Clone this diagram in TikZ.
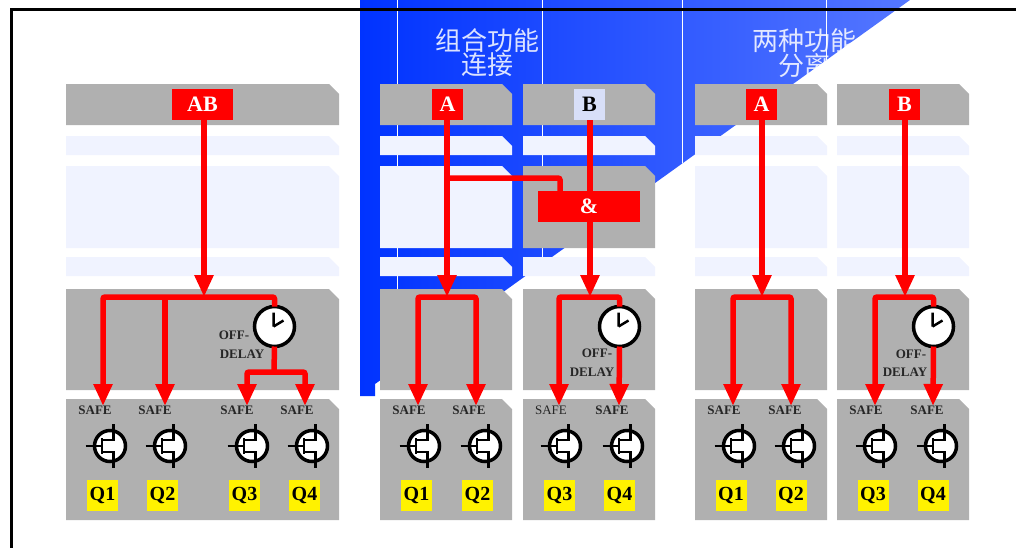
\documentclass[tikz,border=0pt]{standalone}
\usepackage{fontspec}
\setmainfont{Liberation Serif}
\newfontfamily\cjk{Noto Sans CJK SC}
\usetikzlibrary{arrows.meta}
\definecolor{panelgray}{HTML}{B0B0B0}
\definecolor{panelpale}{HTML}{F0F3FF}
\definecolor{inputpale}{HTML}{D8DFF8}
\definecolor{blueleft}{HTML}{0033FF}
\definecolor{blueright}{HTML}{5577FF}
\tikzset{
  notched/.style={rectangle,inner sep=0pt,outer sep=0pt,anchor=north west,
    path picture={
      \fill[#1] (path picture bounding box.north west)
        -- ([xshift=-10pt]path picture bounding box.north east)
        -- ([yshift=-10pt]path picture bounding box.north east)
        -- (path picture bounding box.south east)
        -- (path picture bounding box.south west) -- cycle;}},
  graybox/.style={notched=panelgray},
  paleblock/.style={notched=panelpale},
  wideblock/.style={minimum width=273pt},
  colblock/.style={minimum width=132pt},
  inputbox/.style={fill=red,text=white,font=\fontsize{22}{22}\selectfont\bfseries,
    inner sep=0pt,outer sep=0pt,minimum height=31pt,minimum width=31pt},
  qbox/.style={fill=yellow,text=black,font=\fontsize{20}{20}\selectfont\bfseries,
    inner sep=0pt,outer sep=0pt,minimum height=31pt,minimum width=31pt},
  safetext/.style={text=black!85,font=\fontsize{13}{13}\selectfont\bfseries,inner sep=0pt},
  delaytext/.style={safetext},
  titletext/.style={text=white,text opacity=0.85,align=center,font=\cjk\fontsize{26}{24}\selectfont,inner sep=0pt},
  bus/.style={draw=red,line width=5.5pt,rounded corners=2pt},
  feed/.style={bus,-{Triangle[width=18pt,length=22pt]}},
  clockface/.style={circle,draw=black,fill=white,line width=3.5pt,minimum size=40pt,inner sep=0pt,
    outer sep=0pt,path picture={
      \draw[black,line width=2.5pt] (path picture bounding box.center) ++(-1,0) -- ++(0,-14)
        (path picture bounding box.center) ++(-1,0) -- ++(10,-6);}},
  fet/.pic={
    \draw[black,line width=3.5pt,fill=white] (0,0) circle (15.5);
    \draw[black,line width=2.5pt] (-24.5,0) -- (-8,0) (-8,-8) -- (-8,8)
      (-8,-6) -- (3.5,-6) -- (3.5,-22) (-8,6) -- (3.5,6) -- (3.5,22);}
}
\begin{document}
\begin{tikzpicture}[x=1pt,y=-1pt]
   \useasboundingbox (0,0) rectangle (1016,547);
   % blue band behind the combined columns
   \begin{scope}
      \clip (360,0) -- (910,0) -- (375,384) -- (375,396) -- (360,396) -- cycle;
      \shade[left color=blueleft,right color=blueright] (360,0) rectangle (910,396);
      \draw[white,line width=1pt] (397,0) -- (397,396) (542,0) -- (542,396)
         (682,0) -- (682,396) (826,0) -- (826,396);
   \end{scope}
   \node[titletext] (title1) at (487,53) {组合功能\\连接};
   \node[titletext] (title2) at (804,53) {两种功能\\分离};
   % panels
   \node[graybox,wideblock,minimum height=41pt] (p1a) at (66,84) {};
   \node[paleblock,wideblock,minimum height=19pt] (p1b) at (66,136) {};
   \node[paleblock,wideblock,minimum height=82pt] (p1c) at (66,166) {};
   \node[paleblock,wideblock,minimum height=19pt] (p1d) at (66,257) {};
   \node[graybox,wideblock,minimum height=101pt] (p1e) at (66,289) {};
   \node[graybox,wideblock,minimum height=121pt] (p1f) at (66,399) {};
   \node[graybox,colblock,minimum height=41pt] (p2a) at (380,84) {};
   \node[paleblock,colblock,minimum height=19pt] (p2b) at (380,136) {};
   \node[paleblock,colblock,minimum height=82pt] (p2c) at (380,166) {};
   \node[paleblock,colblock,minimum height=19pt] (p2d) at (380,257) {};
   \node[graybox,colblock,minimum height=101pt] (p2e) at (380,289) {};
   \node[graybox,colblock,minimum height=121pt] (p2f) at (380,399) {};
   \node[graybox,colblock,minimum height=41pt] (p3a) at (523,84) {};
   \node[paleblock,colblock,minimum height=19pt] (p3b) at (523,136) {};
   \node[graybox,colblock,minimum height=82pt] (p3c) at (523,166) {};
   \node[paleblock,colblock,minimum height=19pt] (p3d) at (523,257) {};
   \node[graybox,colblock,minimum height=101pt] (p3e) at (523,289) {};
   \node[graybox,colblock,minimum height=121pt] (p3f) at (523,399) {};
   \node[graybox,colblock,minimum height=41pt] (p4a) at (695,84) {};
   \node[paleblock,colblock,minimum height=19pt] (p4b) at (695,136) {};
   \node[paleblock,colblock,minimum height=82pt] (p4c) at (695,166) {};
   \node[paleblock,colblock,minimum height=19pt] (p4d) at (695,257) {};
   \node[graybox,colblock,minimum height=101pt] (p4e) at (695,289) {};
   \node[graybox,colblock,minimum height=121pt] (p4f) at (695,399) {};
   \node[graybox,colblock,minimum height=41pt] (p5a) at (837,84) {};
   \node[paleblock,colblock,minimum height=19pt] (p5b) at (837,136) {};
   \node[paleblock,colblock,minimum height=82pt] (p5c) at (837,166) {};
   \node[paleblock,colblock,minimum height=19pt] (p5d) at (837,257) {};
   \node[graybox,colblock,minimum height=101pt] (p5e) at (837,289) {};
   \node[graybox,colblock,minimum height=121pt] (p5f) at (837,399) {};
   % inputs
   \node[inputbox,minimum width=61pt] (inAB) at (202.5,104.5) {AB};
   \node[inputbox] (inA) at (447.5,104.5) {A};
   \node[inputbox,fill=inputpale,text=black] (inB) at (589.5,104.5) {B};
   \node[inputbox] (sepA) at (761.5,104.5) {A};
   \node[inputbox] (sepB) at (904.5,104.5) {B};
   \node[inputbox,minimum width=102pt] (gate) at (589,206.5) {\&};
   % junctions and arrow ends
   \coordinate (j1) at (204,297);
   \coordinate (j2) at (274,372);
   \coordinate (j3) at (447,297);
   \coordinate (j4) at (590,297);
   \coordinate (j5) at (762,297);
   \coordinate (j6) at (905,297);
   \coordinate (ja) at (447,178);
   \coordinate (jb) at (560,191);
   \coordinate (t1) at (103,406);
   \coordinate (t2) at (165,406);
   \coordinate (t3) at (247,406);
   \coordinate (t4) at (305,406);
   \coordinate (t5) at (418,406);
   \coordinate (t6) at (476,406);
   \coordinate (t7) at (559,406);
   \coordinate (t8) at (619,406);
   \coordinate (t9) at (733,406);
   \coordinate (t10) at (791,406);
   \coordinate (t11) at (875,406);
   \coordinate (t12) at (933,406);
   % clocks
   \node[clockface] (clk1) at (274.5,326.5) {};
   \node[clockface] (clk2) at (619.5,326.5) {};
   \node[clockface] (clk3) at (933.5,326.5) {};
   % connectors
   \draw[feed] (j1 |- inAB.south) -- (j1);
   \draw[feed] (j3 |- inA.south) -- (j3);
   \draw[bus] (j4 |- inB.south) -- (j4 |- gate.north);
   \draw[feed] (j4 |- gate.south) -- (j4);
   \draw[feed] (j5 |- sepA.south) -- (j5);
   \draw[feed] (j6 |- sepB.south) -- (j6);
   \draw[bus] (ja) -| (jb);
   \draw[feed] (clk1.north) |- (j1) -| (t1);
   \draw[feed] (t2 |- j1) -- (t2);
   \draw[bus] (clk1.south) -- (j2);
   \draw[feed] (j2) -| (t3);
   \draw[feed] (j2) -| (t4);
   \draw[feed] (j3) -| (t5);
   \draw[feed] (j3) -| (t6);
   \draw[feed] (j4) -| (t7);
   \draw[bus] (j4) -| (clk2.north);
   \draw[feed] (clk2.south) -- (t8);
   \draw[feed] (j5) -| (t9);
   \draw[feed] (j5) -| (t10);
   \draw[feed] (j6) -| (t11);
   \draw[bus] (j6) -| (clk3.north);
   \draw[feed] (clk3.south) -- (t12);
   % delay labels
   \node[delaytext] (off1) at (234,335) {OFF-};
   \node[delaytext] (del1) at (242,354) {DELAY};
   \node[delaytext] (off2) at (597,353) {OFF-};
   \node[delaytext] (del2) at (592,372) {DELAY};
   \node[delaytext] (off3) at (911,354) {OFF-};
   \node[delaytext] (del3) at (905,372) {DELAY};
   % outputs
   \node[safetext] (s1) at (95,410) {SAFE};
   \node[safetext] (s2) at (155,410) {SAFE};
   \node[safetext] (s3) at (237,410) {SAFE};
   \node[safetext] (s4) at (297,410) {SAFE};
   \node[safetext] (s5) at (409,410) {SAFE};
   \node[safetext] (s6) at (469,410) {SAFE};
   \node[safetext,font=\fontsize{13}{13}\selectfont] (s7) at (551,410) {SAFE};
   \node[safetext] (s8) at (612,410) {SAFE};
   \node[safetext] (s9) at (724,410) {SAFE};
   \node[safetext] (s10) at (785,410) {SAFE};
   \node[safetext] (s11) at (866,410) {SAFE};
   \node[safetext] (s12) at (927,410) {SAFE};
   \pic at (110,446) {fet};
   \pic at (170,446) {fet};
   \pic at (252,446) {fet};
   \pic at (312,446) {fet};
   \pic at (424,446) {fet};
   \pic at (485,446) {fet};
   \pic at (565,446) {fet};
   \pic at (627,446) {fet};
   \pic at (739,446) {fet};
   \pic at (799,446) {fet};
   \pic at (880,446) {fet};
   \pic at (941,446) {fet};
   \node[qbox] (q1) at (102.5,495.5) {Q1};
   \node[qbox] (q2) at (162.5,495.5) {Q2};
   \node[qbox] (q3) at (244.5,495.5) {Q3};
   \node[qbox] (q4) at (304.5,495.5) {Q4};
   \node[qbox] (q5) at (416.5,495.5) {Q1};
   \node[qbox] (q6) at (477.5,495.5) {Q2};
   \node[qbox] (q7) at (559.5,495.5) {Q3};
   \node[qbox] (q8) at (619.5,495.5) {Q4};
   \node[qbox] (q9) at (731,495.5) {Q1};
   \node[qbox] (q10) at (791,495.5) {Q2};
   \node[qbox] (q11) at (873,495.5) {Q3};
   \node[qbox] (q12) at (933,495.5) {Q4};
   % frame
   \draw[black,line width=3pt] (1020,9.5) -- (11,9.5) -- (11,550);
\end{tikzpicture}
\end{document}
